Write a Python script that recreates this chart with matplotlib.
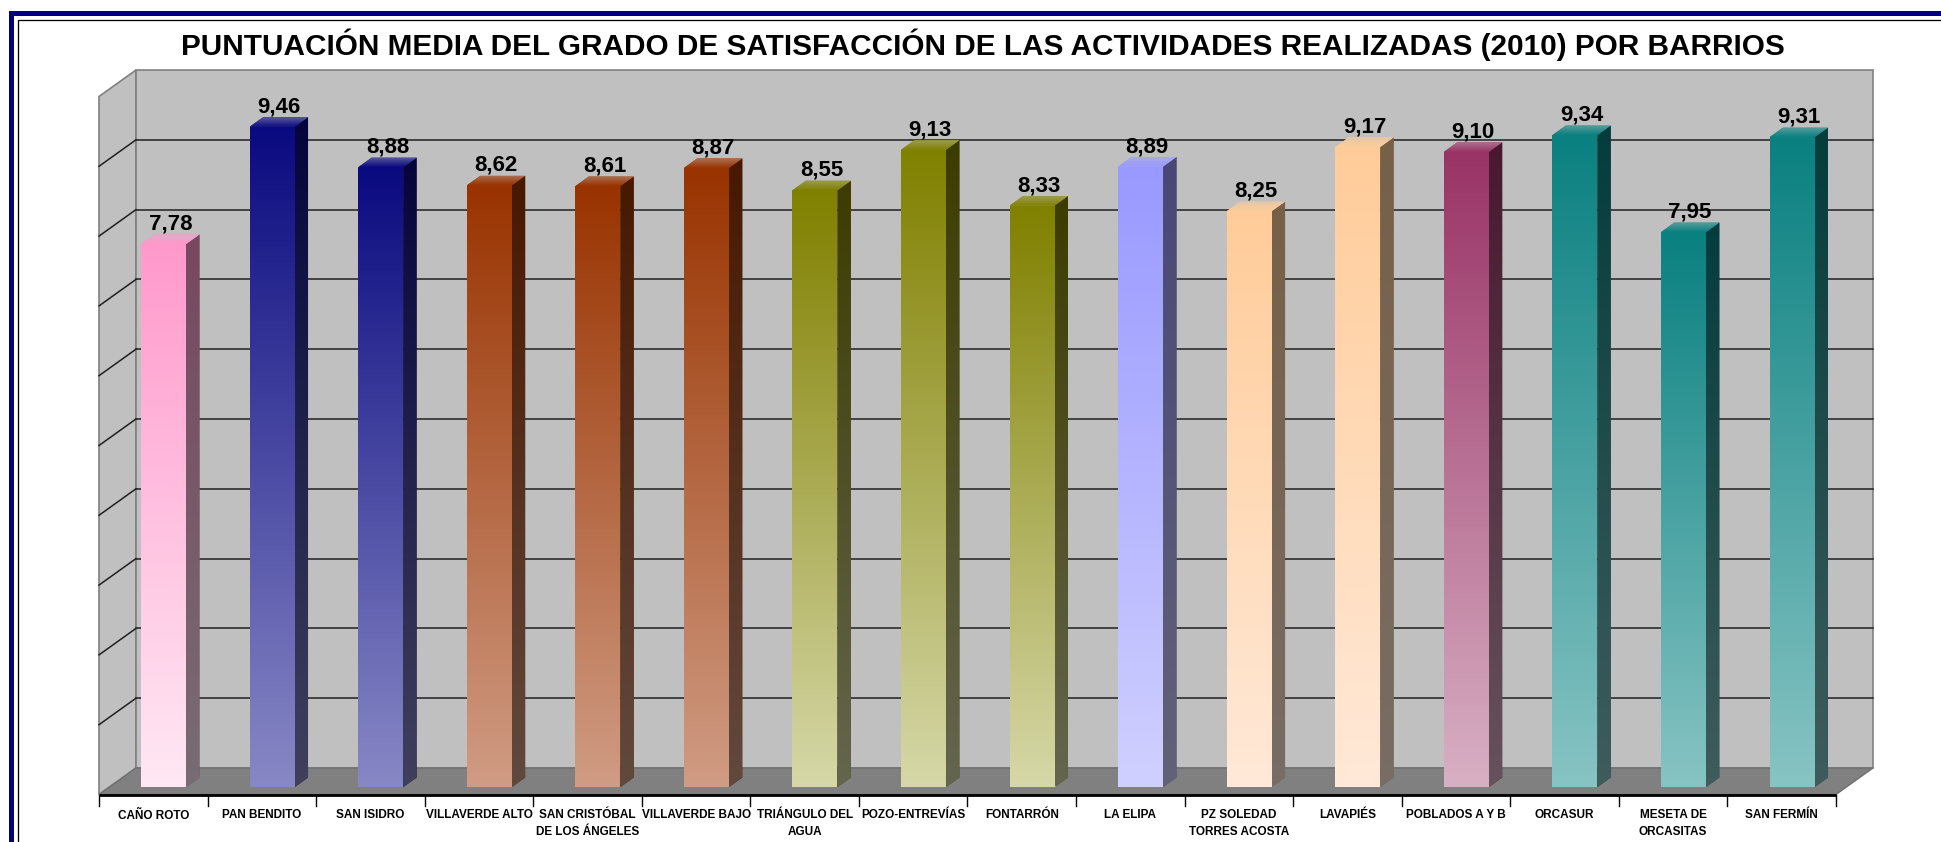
import numpy as np
import matplotlib
matplotlib.use("Agg")
import matplotlib.pyplot as plt
from matplotlib.patches import Polygon, Rectangle
from matplotlib.colors import to_rgb

# ---------------- data ----------------
categories = ["CAÑO ROTO", "PAN BENDITO", "SAN ISIDRO", "VILLAVERDE ALTO",
              "SAN CRISTÓBAL\nDE LOS ÁNGELES", "VILLAVERDE BAJO", "TRIÁNGULO DEL\nAGUA",
              "POZO-ENTREVÍAS", "FONTARRÓN", "LA ELIPA", "PZ SOLEDAD\nTORRES ACOSTA",
              "LAVAPIÉS", "POBLADOS A Y B", "ORCASUR", "MESETA DE\nORCASITAS", "SAN FERMÍN"]
values = [7.78, 9.46, 8.88, 8.62, 8.61, 8.87, 8.55, 9.13, 8.33, 8.89, 8.25,
          9.17, 9.10, 9.34, 7.95, 9.31]
value_labels = ["7,78", "9,46", "8,88", "8,62", "8,61", "8,87", "8,55", "9,13",
                "8,33", "8,89", "8,25", "9,17", "9,10", "9,34", "7,95", "9,31"]
title = ("PUNTUACIÓN MEDIA DEL GRADO DE SATISFACCIÓN DE LAS ACTIVIDADES "
         "REALIZADAS (2010) POR BARRIOS")

# gradient colours (top, bottom) per bar
pal = {
    "pink": ("#FF99CC", "#FFE8F4"),
    "navy": ("#0A0A80", "#8888C6"),
    "brown": ("#993300", "#D09C84"),
    "olive": ("#808000", "#D6D8A8"),
    "lav": ("#9999FF", "#D0D0FF"),
    "peach": ("#FFCC99", "#FFE9D8"),
    "plum": ("#993366", "#D8B0C4"),
    "teal": ("#0A8080", "#88C4C4"),
}
bar_colors = ["pink", "navy", "navy", "brown", "brown", "brown", "olive", "olive",
              "olive", "lav", "peach", "peach", "plum", "teal", "teal", "teal"]

# ---------------- figure / geometry ----------------
W, H = 1941, 842
fig = plt.figure(figsize=(W / 100, H / 100), dpi=100)
fig.patch.set_facecolor("white")
ax = fig.add_axes([0, 0, 1, 1])
ax.set_axis_off()

cat_px = 108.56       # px per category on back wall
val_px = 69.8         # px per unit on back wall
x0_px, y0_px = 136, 768
XL = (-x0_px / cat_px, (W - x0_px) / cat_px)
YL = ((y0_px - H) / val_px, y0_px / val_px)

n = len(values)
ymax = 10
DX = -37 / cat_px     # depth offset (back -> front)
DY = -26.5 / val_px
d_front, d_back = 0.72, 0.36
bw = 45 / cat_px
sdx = (d_front - d_back) * (-DX)
sdy = (d_front - d_back) * (-DY)

# walls & floor
ax.add_patch(Polygon([(0, 0), (0, ymax), (DX, ymax + DY), (DX, DY)],
                     closed=True, fc="#C0C0C0", ec="#808080", lw=1.2, zorder=1))
ax.add_patch(Rectangle((0, 0), n, ymax, fc="#C0C0C0", ec="#808080", lw=1.2, zorder=1))
ax.add_patch(Polygon([(0, 0), (n, 0), (n + DX, DY), (DX, DY)],
                     closed=True, fc="#808080", ec="#707070", lw=1.0, zorder=1.5))
for k in range(1, ymax):
    ax.plot([0, n], [k, k], color="#202020", lw=1.1, zorder=1.2)
    ax.plot([DX, 0], [k + DY, k], color="#202020", lw=1.1, zorder=1.2)
# front axis line + ticks
ax.plot([DX, n + DX], [DY, DY], color="black", lw=2.0, zorder=2, solid_capstyle="butt")
tick_len = 11 / val_px
for k in range(n + 1):
    ax.plot([k + DX, k + DX], [DY, DY - tick_len], color="black", lw=1.0, zorder=2)


def grad_img(polypatch, c_top, c_bot, ext):
    t = np.linspace(0, 1, 256)[:, None]
    a = np.array(to_rgb(c_bot))
    b = np.array(to_rgb(c_top))
    arr = (a[None, :] * (1 - t) + b[None, :] * t)[:, None, :]
    im = ax.imshow(arr, extent=ext, origin="lower", aspect="auto",
                   interpolation="bilinear", zorder=polypatch.get_zorder() + 0.01)
    im.set_clip_path(polypatch)


def scale(c, f):
    return tuple(np.clip(np.array(to_rgb(c)) * f, 0, 1))


def mix(c1, c2, f):
    return tuple(np.array(to_rgb(c1)) * (1 - f) + np.array(to_rgb(c2)) * f)


xc = np.arange(n) + 0.5 + d_front * DX
bottom = d_front * DY
bars = ax.bar(xc, values, width=bw, bottom=bottom, zorder=3, lw=0,
              color=[pal[c][0] for c in bar_colors])

for i, rect in enumerate(bars):
    ctop, cbot = pal[bar_colors[i]]
    xl = rect.get_x()
    xr = xl + rect.get_width()
    yb = rect.get_y()
    yt = yb + rect.get_height()
    # front gradient
    grad_img(rect, ctop, cbot, (xl, xr, yb, yt))
    # side face
    side = Polygon([(xr, yb), (xr, yt), (xr + sdx, yt + sdy), (xr + sdx, yb + sdy)],
                   closed=True, fc=scale(ctop, 0.47), lw=0, zorder=3)
    ax.add_patch(side)
    grad_img(side, scale(ctop, 0.47), scale(cbot, 0.47), (xr, xr + sdx, yb, yt + sdy))
    # top face
    top = Polygon([(xl, yt), (xr, yt), (xr + sdx, yt + sdy), (xl + sdx, yt + sdy)],
                  closed=True, fc=ctop, lw=0, zorder=3)
    ax.add_patch(top)
    grad_img(top, mix(ctop, "#C0C0C0", 0.45), ctop, (xl, xr + sdx, yt, yt + sdy))
    # value label
    ax.text(xc[i] + sdx / 2, yt + sdy + 5 / val_px, value_labels[i],
            ha="center", va="baseline", fontsize=16, fontweight="bold",
            family=["Liberation Sans", "DejaVu Sans"], color="black", zorder=5)

# category labels
for i, lab in enumerate(categories):
    ax.text(i + 0.5 + DX, DY - 15 / val_px, lab, ha="center", va="top",
            fontsize=8.5, fontweight="bold", linespacing=1.45,
            family=["Liberation Sans", "DejaVu Sans"],
            color="black", zorder=5)

ax.set_xlim(*XL)
ax.set_ylim(*YL)

# title
fig.text(983 / W, 1 - 55 / H, title, ha="center", va="baseline", fontsize=21.4,
         fontweight="bold", family=["Liberation Sans", "DejaVu Sans"], color="black")

# frame: navy thick border + thin black inner line (extending past right/bottom edges)
fig.patches.append(Rectangle((10.5 / W, -0.2), 1.5, 1.2 - 12.5 / H, transform=fig.transFigure,
                             fill=False, ec="#000080", lw=5 * 0.72, zorder=10))
fig.patches.append(Rectangle((17.5 / W, -0.2), 1.5, 1.2 - 20 / H, transform=fig.transFigure,
                             fill=False, ec="black", lw=1.3 * 0.72, zorder=10))

fig.savefig("out.png", dpi=100)
